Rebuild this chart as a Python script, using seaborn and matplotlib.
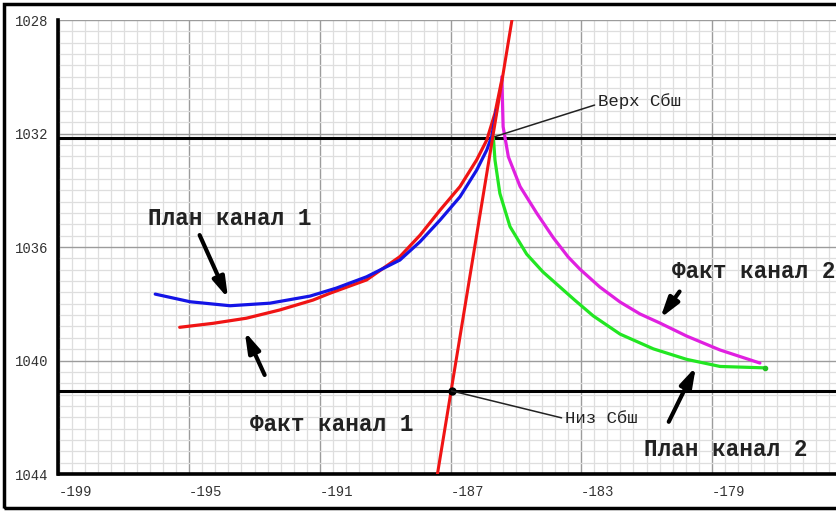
import numpy as np
import pandas as pd
import matplotlib
matplotlib.use("Agg")
import matplotlib.pyplot as plt
import seaborn as sns
from matplotlib.patches import Rectangle
from matplotlib.ticker import FixedLocator

# ---------------- data ----------------
plan1_x = [-196.04, -194.97, -193.75, -192.53, -191.30, -190.50, -189.57, -188.55, -187.93, -187.32, -186.71, -186.20, -185.89, -185.74, -185.59]
plan1_y = [1037.66, 1037.93, 1038.07, 1037.98, 1037.73, 1037.45, 1037.05, 1036.46, 1035.81, 1035.05, 1034.23, 1033.29, 1032.58, 1032.11, 1031.17]

fact1_x = [-195.29, -194.27, -193.25, -192.23, -191.21, -190.69, -189.57, -188.55, -187.93, -187.32, -186.71, -186.20, -185.89, -185.64, -185.43]
fact1_y = [1038.83, 1038.69, 1038.51, 1038.22, 1037.87, 1037.63, 1037.16, 1036.34, 1035.58, 1034.70, 1033.87, 1032.93, 1032.23, 1031.29, 1030.11]

fact2_x = [-185.43, -185.39, -185.23, -184.87, -184.36, -183.85, -183.40, -183.04, -182.43, -181.81, -181.20, -180.59, -179.77, -178.75, -177.53]
fact2_y = [1030.00, 1031.76, 1032.82, 1033.87, 1034.81, 1035.68, 1036.35, 1036.78, 1037.41, 1037.94, 1038.36, 1038.68, 1039.14, 1039.63, 1040.09]

plan2_x = [-185.69, -185.64, -185.49, -185.18, -184.67, -184.17, -183.65, -183.20, -182.63, -181.81, -180.79, -179.77, -178.75, -177.37]
plan2_y = [1032.11, 1032.93, 1034.11, 1035.28, 1036.25, 1036.88, 1037.41, 1037.87, 1038.43, 1039.07, 1039.59, 1039.96, 1040.21, 1040.26]

sbsh_line_x = [-187.40, -185.12]
sbsh_line_y = [1044.0, 1028.0]

top_level = 1032.15
bottom_level = 1041.07
top_point = (-185.64, 1032.11)
bottom_point = (-186.97, 1041.07)

x_ticks = [-199, -195, -191, -187, -183, -179]
y_ticks = [1028, 1032, 1036, 1040, 1044]
x_tick_labels = ["-199", "-195", "-191", "-187", "-183", "-179"]
y_tick_labels = ["1028", "1032", "1036", "1040", "1044"]

# ---------------- figure ----------------
sns.set_theme(style="white")
plt.rcParams['font.family'] = ['Liberation Mono', 'DejaVu Sans Mono']

W, H = 837, 511
fig = plt.figure(figsize=(W / 100, H / 100), dpi=100)
ax = fig.add_axes([58.5 / W, (H - 474) / H, 1 - 58.5 / W, (474 - 20) / H])

ax.set_xlim(-199, -175.17)
ax.set_ylim(1044, 1028)

# grid
ax.xaxis.set_major_locator(FixedLocator(x_ticks))
ax.yaxis.set_major_locator(FixedLocator(y_ticks))
ax.xaxis.set_minor_locator(FixedLocator(np.arange(-199, -175, 0.4)))
ax.yaxis.set_minor_locator(FixedLocator(np.arange(1028, 1044.01, 0.4)))
ax.grid(which='minor', color='#dedede', lw=0.9, zorder=0)
ax.grid(which='major', color='#9c9c9c', lw=1.0, zorder=0)
ax.set_axisbelow(True)

ax.set_xticklabels(x_tick_labels)
ax.set_yticklabels(y_tick_labels)
ax.tick_params(which='minor', length=0)
ax.tick_params(axis='both', which='major', direction='in', length=11, width=2.6,
               color='black', labelsize=10, labelcolor='#333333')
ax.tick_params(axis='x', pad=8)
ax.tick_params(axis='y', pad=7)
for lbl in ax.get_xticklabels():
    lbl.set_ha('left')

for s in ['top', 'right']:
    ax.spines[s].set_visible(False)
for s in ['left', 'bottom']:
    ax.spines[s].set_color('black')
    ax.spines[s].set_linewidth(2.6)

# level lines
ax.axhline(top_level, color='black', lw=2.2, zorder=2)
ax.axhline(bottom_level, color='black', lw=2.2, zorder=2)

# curves
sns.lineplot(x=plan1_x, y=plan1_y, sort=False, estimator=None, color='#1414e6', lw=2.3, ax=ax, zorder=4)
sns.lineplot(x=fact1_x, y=fact1_y, sort=False, estimator=None, color='#f01414', lw=2.3, ax=ax, zorder=3)
sns.lineplot(x=fact2_x, y=fact2_y, sort=False, estimator=None, color='#e020e0', lw=2.3, ax=ax, zorder=3)
sns.lineplot(x=plan2_x, y=plan2_y, sort=False, estimator=None, color='#22e622', lw=2.3, ax=ax, zorder=3)
sns.lineplot(x=sbsh_line_x, y=sbsh_line_y, sort=False, estimator=None, color='#f01414', lw=2.2, ax=ax, zorder=5)

ax.plot([plan2_x[-1]], [plan2_y[-1]], 'o', color='#22c022', ms=3, zorder=4)
ax.plot([bottom_point[0]], [bottom_point[1]], 'o', color='black', ms=5, zorder=6)

# annotations with leader lines
ax.annotate("Верх Сбш", xy=top_point, xytext=(-182.49, 1030.85),
            fontsize=12.5, color='#222222', va='center', ha='left',
            arrowprops=dict(arrowstyle='-', color='#222222', lw=1.1,
                            shrinkA=0, shrinkB=0, relpos=(0, 0.3)), zorder=6)
ax.annotate("Низ Сбш", xy=bottom_point, xytext=(-183.50, 1042.05),
            fontsize=12.5, color='#222222', va='center', ha='left',
            arrowprops=dict(arrowstyle='-', color='#222222', lw=1.1,
                            shrinkA=0, shrinkB=0, relpos=(0, 0.5)), zorder=6)

# series labels
lab_kw = dict(fontsize=16.3, fontweight='bold', color='#222222', va='center', ha='left')
ax.text(-196.27, 1034.98, "План канал 1", **lab_kw)
ax.text(-193.15, 1042.24, "Факт канал 1", **lab_kw)
ax.text(-180.22, 1036.87, "Факт канал 2", **lab_kw)
ax.text(-181.09, 1043.15, "План канал 2", **lab_kw)

# arrows
arrow_kw = dict(arrowstyle='-|>,head_length=1.0,head_width=0.3', color='black', lw=3,
                shrinkA=0, shrinkB=0)
arrows = [((-194.68, 1035.58), (-193.81, 1037.81)),
          ((-192.69, 1040.51), (-193.30, 1038.98)),
          ((-179.99, 1037.57), (-180.58, 1038.51)),
          ((-180.32, 1042.16), (-179.49, 1040.22))]
for tail, head in arrows:
    ax.annotate("", xy=head, xytext=tail, arrowprops=arrow_kw, zorder=6)

# outer frame
fig.patches.append(Rectangle((4 / W, 3 / H), 1.0, (507 - 3) / H, transform=fig.transFigure,
                             fill=False, lw=2.5, ec='black'))

fig.savefig("out.png", dpi=100)
